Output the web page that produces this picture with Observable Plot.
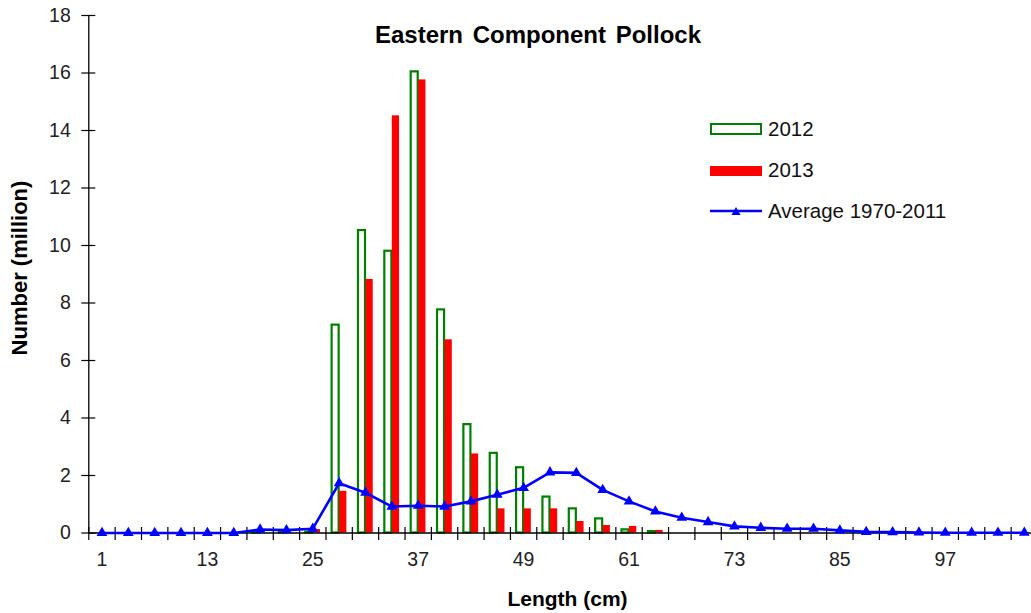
<!DOCTYPE html>
<html><head><meta charset="utf-8">
<script src="https://cdn.jsdelivr.net/npm/d3@7"></script>
<script src="https://cdn.jsdelivr.net/npm/@observablehq/plot@0.6"></script>
<style>
html,body{margin:0;padding:0;background:#fff;overflow:hidden}
#wrap{position:relative;width:1031px;height:613px;font-family:"Liberation Sans",Arial,sans-serif;color:#111}
.t{position:absolute;white-space:nowrap;line-height:1}
.sw{position:absolute;box-sizing:border-box}
</style></head><body><div id="wrap"></div>
<script>
// Length classes (cm)
const lengths = [1,4,7,10,13,16,19,22,25,28,31,34,37,40,43,46,49,52,55,58,61,64,67,70,73,76,79,82,85,88,91,94,97,100,103,106];
// Numbers (million)
const n2012 = [0,0,0,0,0,0,0.02,0.02,0.03,7.23,10.52,9.80,16.04,7.76,3.77,2.77,2.27,1.25,0.84,0.49,0.11,0.05,0,0,0,0,0,0,0,0,0,0,0,0,0,0];
const n2013 = [0,0,0,0,0,0,0,0,0.12,1.45,8.82,14.51,15.76,6.72,2.75,0.84,0.84,0.84,0.40,0.26,0.23,0.09,0,0,0,0,0,0,0,0,0,0,0,0,0,0];
const avg19702011 = [0,0,0,0,0,0,0.12,0.10,0.15,1.73,1.40,0.92,0.95,0.92,1.10,1.33,1.57,2.11,2.09,1.50,1.10,0.75,0.53,0.38,0.23,0.18,0.15,0.15,0.09,0.04,0.03,0.02,0.01,0.01,0.01,0.01];
const seriesNames = ["2012","2013","Average 1970-2011"];
const xTickLabels = [1,13,25,37,49,61,73,85,97];
const yTicks = [0,2,4,6,8,10,12,14,16,18];
const titleText = "Eastern Component Pollock";
const xTitle = "Length (cm)";
const yTitle = "Number (million)";

const rows = lengths.map((L,i)=>({L, a:n2012[i], b:n2013[i], avg:avg19702011[i]}));
const edges = lengths.map(L=>L-1.5).concat([lengths[lengths.length-1]+1.5]);
const GREEN="#008000", RED="#ff0000", BLUE="#0000ff";

const chart = Plot.plot({
  width:1031, height:613, marginLeft:88.3, marginRight:0, marginTop:15, marginBottom:80.5,
  style:{fontFamily:'"Liberation Sans", Arial, sans-serif', fontSize:"19.5px", color:"#222", background:"white"},
  x:{domain:[-0.5,107.5], range:[88.3,1037], ticks:xTickLabels, tickSize:0, tickPadding:19.5, label:null},
  y:{domain:[0,18], ticks:yTicks, tickSize:0, tickPadding:18, label:null},
  marks:[
    Plot.rect(rows.filter(d=>d.a>0), {x1:d=>d.L-0.8, x2:d=>d.L, y1:0, y2:"a", fill:"white", stroke:GREEN, strokeWidth:2.2}),
    Plot.rect(rows.filter(d=>d.b>0), {x1:d=>d.L+0.05, x2:d=>d.L+0.88, y1:0, y2:"b", fill:RED}),
    Plot.ruleY([0], {stroke:"#000", strokeWidth:1.3}),
    Plot.ruleX([-0.5], {stroke:"#000", strokeWidth:1.3}),
    Plot.ruleX(edges, {y1:0, y2:0, insetTop:-5.5, insetBottom:-7.5, stroke:"#000", strokeWidth:1.2}),
    Plot.ruleY(yTicks, {x1:-0.5, x2:-0.5, insetLeft:-7, insetRight:-7, stroke:"#000", strokeWidth:1.2}),
    Plot.line(rows, {x:"L", y:"avg", stroke:BLUE, strokeWidth:2.6}),
    Plot.dot(rows, {x:"L", y:"avg", symbol:"triangle", r:4, fill:BLUE})
  ]
});
const wrap = document.getElementById("wrap");
wrap.appendChild(chart);

function addText(txt, opts){
  const d=document.createElement("div");
  d.className="t"; d.textContent=txt;
  Object.assign(d.style, opts);
  wrap.appendChild(d); return d;
}
// title, axis titles
addText(titleText,{left:"538px",top:"23px",fontSize:"24px",fontWeight:"bold",wordSpacing:"3px",transform:"translateX(-50%)",color:"#000"});
addText(xTitle,{left:"567.5px",top:"588px",fontSize:"21px",fontWeight:"bold",transform:"translateX(-50%)",color:"#000"});
addText(yTitle,{left:"20px",top:"268px",fontSize:"22px",fontWeight:"bold",transform:"translate(-50%,-50%) rotate(-90deg)",color:"#000"});

// legend
function sw(style){const d=document.createElement("div");d.className="sw";Object.assign(d.style,style);wrap.appendChild(d);return d;}
sw({left:"710px",top:"122.5px",width:"52px",height:"12.5px",border:"2px solid "+GREEN,background:"#fff"});
sw({left:"710px",top:"165.5px",width:"52px",height:"10px",background:RED});
const ls=document.createElementNS("http://www.w3.org/2000/svg","svg");
ls.setAttribute("width","56");ls.setAttribute("height","14");
ls.style.position="absolute";ls.style.left="708px";ls.style.top="204px";
ls.innerHTML='<line x1="2" x2="54" y1="7" y2="7" stroke="'+BLUE+'" stroke-width="2.6"/><path d="M28,3 L32.6,11 L23.4,11 Z" fill="'+BLUE+'"/>';
wrap.appendChild(ls);
const lf=20.5;
addText(seriesNames[0],{left:"768px",top:(136-0.8465*lf)+"px",fontSize:lf+"px"});
addText(seriesNames[1],{left:"768px",top:(177.3-0.8465*lf)+"px",fontSize:lf+"px"});
addText(seriesNames[2],{left:"768px",top:(218.3-0.8465*lf)+"px",fontSize:lf+"px"});
</script></body></html>
